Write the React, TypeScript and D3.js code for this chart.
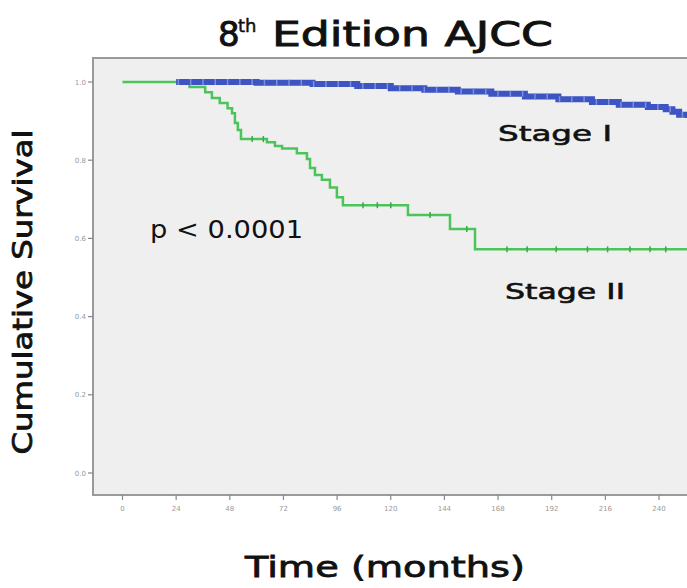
import React from "react";
import * as d3 from "d3";

const xTicks = [0, 24, 48, 72, 96, 120, 144, 168, 192, 216, 240];
const yTicks = [0.0, 0.2, 0.4, 0.6, 0.8, 1.0];

// Stage I (blue) step curve: [month, survival]
const stage1Steps: [number, number][] = [
  [24, 1.0], [60, 0.998], [85, 0.995], [105, 0.99], [120, 0.984], [135, 0.98],
  [150, 0.976], [165, 0.97], [180, 0.963], [195, 0.956], [210, 0.949], [222, 0.942],
  [235, 0.936], [243, 0.93], [246, 0.924], [249, 0.916], [253, 0.908],
];
// Stage II (green) step curve
const stage2Steps: [number, number][] = [
  [0, 1.0], [30, 0.987], [37, 0.974], [40, 0.959], [43.5, 0.946], [47, 0.933],
  [49, 0.92], [50.3, 0.895], [51.6, 0.877], [53, 0.854], [64.6, 0.846], [68.2, 0.836],
  [71.4, 0.83], [78, 0.818], [82.5, 0.803], [83.9, 0.78], [86.1, 0.762], [89.2, 0.75],
  [92.8, 0.73], [95.9, 0.705], [98.6, 0.685], [127.7, 0.66], [146.5, 0.624],
  [157.7, 0.572], [253, 0.572],
];
const stage2Censor = [58, 63, 107.6, 114, 120, 137.6, 154, 172, 181, 194, 208, 217, 227, 236, 243];
const stage1Censor = d3.range(25, 253, 5.5).map((m) => +m.toFixed(1));

const W = 687;
const H = 588;
const left = 93;
const top = 58;
const bottom = 495;

function survAt(steps: [number, number][], t: number) {
  let v = steps[0][1];
  for (const [m, s] of steps) if (m <= t) v = s;
  return v;
}

export default function App() {
  const x = d3.scaleLinear().domain([0, 240]).range([122.5, 659]);
  const y = d3.scaleLinear().domain([0, 1]).range([473, 82]);
  const stepLine = d3
    .line<[number, number]>()
    .x((d) => x(d[0]))
    .y((d) => y(d[1]))
    .curve(d3.curveStepAfter);

  const comic = "'Comic Sans MS', 'DejaVu Sans', sans-serif";
  const plain = "Verdana, 'DejaVu Sans', sans-serif";

  return (
    <svg
      width={W}
      height={H}
      style={{ position: "absolute", left: 0, top: 0, background: "#fff" }}
    >
      <defs>
        <clipPath id="plotclip">
          <rect x={left} y={top} width={W - left} height={bottom - top} />
        </clipPath>
      </defs>
      <rect x={left} y={top} width={W - left} height={bottom - top} fill="#efefef" />
      <path
        d={`M${W},${top}H${left}V${bottom}H${W}`}
        fill="none"
        stroke="#9a9a9a"
        strokeWidth={2}
      />
      {/* title */}
      <text x={218} y={46} fontFamily={comic} fontSize={34} fill="#111" stroke="#111" strokeWidth={0.9}>
        8
      </text>
      <text x={238} y={32} fontFamily={comic} fontSize={18} fill="#111" stroke="#111" strokeWidth={0.5}>
        th
      </text>
      <text
        x={272}
        y={46}
        fontFamily={comic}
        fontSize={34}
        fill="#111"
        stroke="#111"
        strokeWidth={0.9}
        textLength={281}
        lengthAdjust="spacingAndGlyphs"
      >
        Edition AJCC
      </text>
      {/* y axis */}
      {yTicks.map((t) => (
        <g key={t}>
          <line x1={left - 5} x2={left} y1={y(t)} y2={y(t)} stroke="#888" strokeWidth={1.2} />
          <text
            x={left - 7}
            y={y(t) + 2.5}
            textAnchor="end"
            fontFamily={plain}
            fontSize={7}
            fill="#999"
          >
            {t.toFixed(1)}
          </text>
        </g>
      ))}
      {/* x axis */}
      {xTicks.map((t) => (
        <g key={t}>
          <line x1={x(t)} x2={x(t)} y1={bottom} y2={bottom + 5} stroke="#888" strokeWidth={1.2} />
          <text
            x={x(t)}
            y={bottom + 16}
            textAnchor="middle"
            fontFamily={plain}
            fontSize={7}
            fill="#999"
          >
            {t}
          </text>
        </g>
      ))}
      <g clipPath="url(#plotclip)">
        {/* Stage II */}
        <path d={stepLine(stage2Steps) || ""} fill="none" stroke="#4cc45a" strokeWidth={2.5} />
        {stage2Censor.map((c, i) => (
          <line
            key={i}
            x1={x(c)}
            x2={x(c)}
            y1={y(survAt(stage2Steps, c)) - 3}
            y2={y(survAt(stage2Steps, c)) + 3}
            stroke="#3aa84a"
            strokeWidth={1.5}
          />
        ))}
        {/* Stage I */}
        <path d={stepLine(stage1Steps) || ""} fill="none" stroke="#3d54c4" strokeWidth={6} />
        {stage1Censor.map((c, i) => (
          <line
            key={i}
            x1={x(c)}
            x2={x(c)}
            y1={y(survAt(stage1Steps, c)) - 3}
            y2={y(survAt(stage1Steps, c)) + 3}
            stroke="#7d8fd6"
            strokeWidth={1.5}
          />
        ))}
      </g>
      {/* annotations */}
      <text
        x={150}
        y={238}
        fontFamily={plain}
        fontSize={24}
        fill="#111"
        textLength={153}
        lengthAdjust="spacingAndGlyphs"
      >
        p &lt; 0.0001
      </text>
      <text
        x={498}
        y={141}
        fontFamily={comic}
        fontSize={22}
        fill="#111"
        stroke="#111"
        strokeWidth={0.6}
        textLength={114}
        lengthAdjust="spacingAndGlyphs"
      >
        Stage I
      </text>
      <text
        x={505}
        y={299}
        fontFamily={comic}
        fontSize={22}
        fill="#111"
        stroke="#111"
        strokeWidth={0.6}
        textLength={120}
        lengthAdjust="spacingAndGlyphs"
      >
        Stage II
      </text>
      {/* axis titles */}
      <text
        transform="translate(32,292) rotate(-90)"
        textAnchor="middle"
        fontFamily={comic}
        fontSize={27}
        fill="#111"
        stroke="#111"
        strokeWidth={0.8}
        textLength={325}
        lengthAdjust="spacingAndGlyphs"
      >
        Cumulative Survival
      </text>
      <text
        x={385}
        y={577}
        textAnchor="middle"
        fontFamily={comic}
        fontSize={29}
        fill="#111"
        stroke="#111"
        strokeWidth={0.8}
        textLength={280}
        lengthAdjust="spacingAndGlyphs"
      >
        Time (months)
      </text>
    </svg>
  );
}
